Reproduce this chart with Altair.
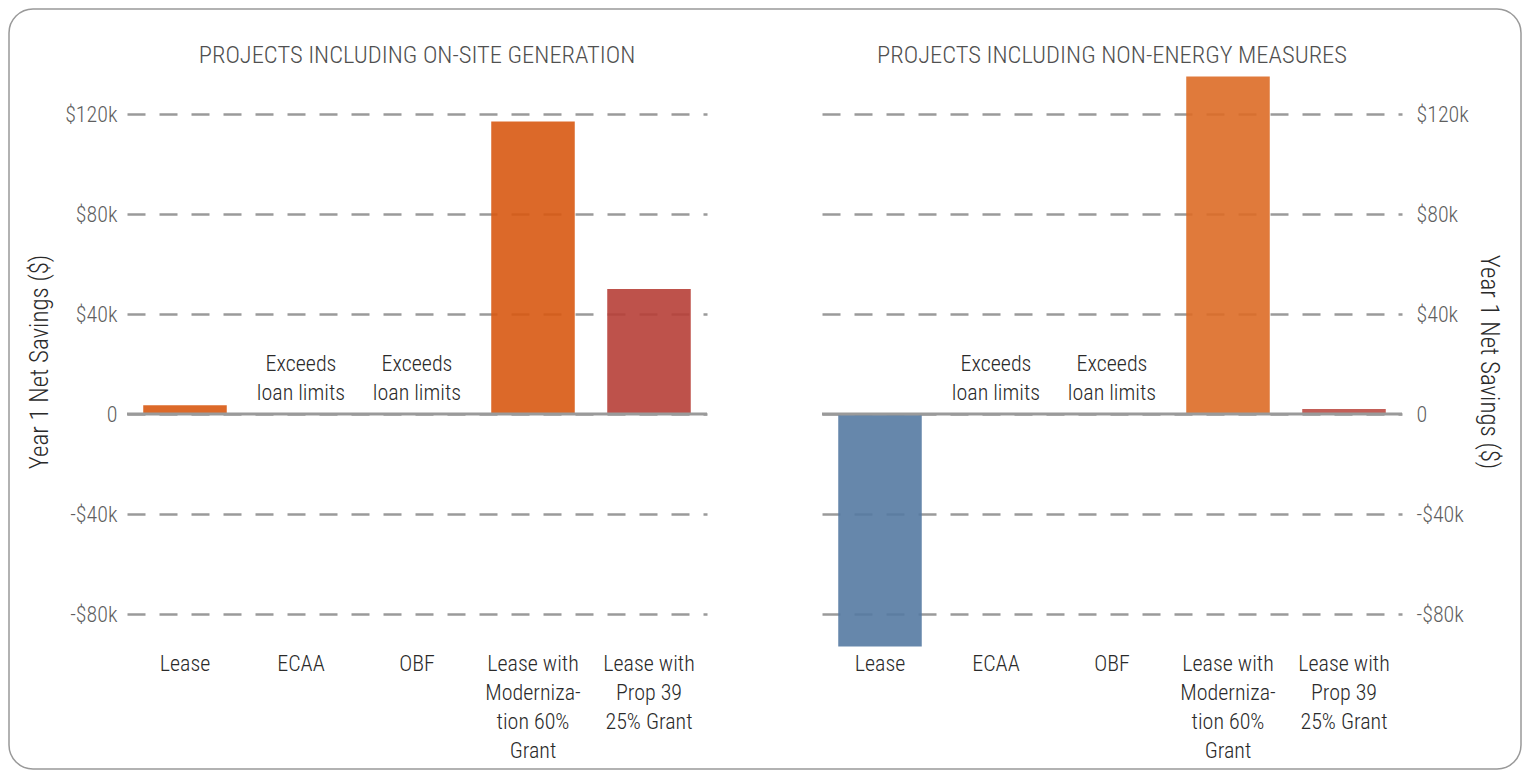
import altair as alt
import pandas as pd

# ---------------- data ----------------
categories = [
    "Lease",
    "ECAA",
    "OBF",
    "Lease with\nModerniza-\ntion 60%\nGrant",
    "Lease with\nProp 39\n25% Grant",
]
onsite_values = [3500, None, None, 117000, 50000]
nonenergy_values = [-93000, None, None, 135000, 2000]

exceeds_categories = ["ECAA", "OBF"]
exceeds_text = ["Exceeds\nloan limits", "Exceeds\nloan limits"]

y_ticks = [-80000, -40000, 0, 40000, 80000, 120000]
panel_titles = [
    "PROJECTS INCLUDING ON-SITE GENERATION",
    "PROJECTS INCLUDING NON-ENERGY MEASURES",
]
axis_title = "Year 1 Net Savings ($)"

# ---------------- styling ----------------
FONT = "Roboto Condensed, Liberation Sans Narrow, DejaVu Sans Condensed, sans-serif"
WEIGHT = 300
onsite_colors = ["#D85912", "#888888", "#888888", "#D85912", "#B73F37"]
nonenergy_colors = ["#557AA2", "#888888", "#888888", "#DD6B26", "#BD4D45"]
GRID = "#9a9a9a"
PANEL_W = 580
PANEL_H = 575
Y_DOMAIN = [-94000, 136000]

label_expr = (
    "datum.value == 0 ? '0' : (datum.value < 0 ? '-$' : '$') + "
    "format(abs(datum.value) / 1000, 'd') + 'k'"
)


def panel(values, colors, title, orient, with_border):
    df = pd.DataFrame({"category": categories, "value": values})

    x_enc = alt.X(
        "category:N",
        sort=categories,
        scale=alt.Scale(domain=categories, paddingInner=0.28, paddingOuter=0.14),
        axis=alt.Axis(
            title=None,
            orient="bottom",
            labelAngle=0,
            labelExpr="split(datum.label, '\\n')",
            labelFont=FONT,
            labelFontSize=22,
            labelFontWeight=WEIGHT,
            labelColor="#2a2a2a",
            labelPadding=4,
            labelLineHeight=29,
            labelBaseline="top",
            labelLimit=400,
            domain=False,
            ticks=False,
            grid=False,
        ),
    )
    y_enc = alt.Y(
        "value:Q",
        scale=alt.Scale(domain=Y_DOMAIN, nice=False, zero=False),
        axis=alt.Axis(
            orient=orient,
            values=y_ticks,
            labelExpr=label_expr,
            labelFont=FONT,
            labelFontSize=22,
            labelFontWeight=WEIGHT,
            labelColor="#5f5f5f",
            labelPadding=10 if orient == "left" else 14,
            grid=True,
            gridDash=[18, 14],
            gridDashOffset=0 if orient == "left" else 14,
            gridColor=GRID,
            gridWidth=2.5,
            domain=False,
            ticks=False,
            title=axis_title,
            titleFont=FONT,
            titleFontSize=25,
            titleFontWeight=WEIGHT,
            titleColor="#2a2a2a",
            titlePadding=12 if orient == "left" else 7,
        ),
    )

    bars = (
        alt.Chart(df)
        .mark_bar(opacity=0.9)
        .encode(
            x=x_enc,
            y=y_enc,
            color=alt.Color(
                "category:N",
                scale=alt.Scale(domain=categories, range=colors),
                legend=None,
            ),
        )
    )

    zero = (
        alt.Chart(pd.DataFrame({"z": [0]}))
        .mark_rule(color=GRID, strokeWidth=3)
        .encode(y=alt.datum(0))
    )

    ex_df = pd.DataFrame({"category": exceeds_categories, "label": exceeds_text})
    exceeds = (
        alt.Chart(ex_df)
        .mark_text(
            font=FONT,
            fontSize=22,
            fontWeight=WEIGHT,
            color="#2a2a2a",
            lineBreak="\n",
            lineHeight=29,
            baseline="bottom",
            align="center",
            dy=-38,
        )
        .encode(
            x=alt.X("category:N", sort=categories),
            y=alt.datum(0),
            text="label:N",
        )
    )

    ttl = (
        alt.Chart(pd.DataFrame({"t": [title]}))
        .mark_text(
            font=FONT,
            fontSize=24.5,
            fontWeight=WEIGHT,
            color="#505050",
            align="center",
            baseline="alphabetic",
        )
        .encode(x=alt.value(PANEL_W / 2), y=alt.value(-11), text="t:N")
    )

    layers = [bars, zero, exceeds, ttl]
    if with_border:
        border = (
            alt.Chart(pd.DataFrame({"b": [0]}))
            .mark_rect(
                fill="white",
                fillOpacity=0,
                stroke="#999999",
                strokeWidth=1.5,
                cornerRadius=24,
            )
            .encode(
                x=alt.value(-118),
                x2=alt.value(1394),
                y=alt.value(-65),
                y2=alt.value(695),
            )
        )
        layers = [border] + layers

    return alt.layer(*layers).properties(width=PANEL_W, height=PANEL_H)


left = panel(onsite_values, onsite_colors, panel_titles[0], "left", True)
right = panel(nonenergy_values, nonenergy_colors, panel_titles[1], "right", False)

chart = (
    alt.hconcat(left, right, spacing=115, bounds="flush")
    .resolve_scale(x="independent", y="independent", color="independent")
    .properties(padding=0, background="white")
    .configure_view(stroke=None)
)

chart.save("out.html", embed_options={"renderer": "svg", "actions": False})
